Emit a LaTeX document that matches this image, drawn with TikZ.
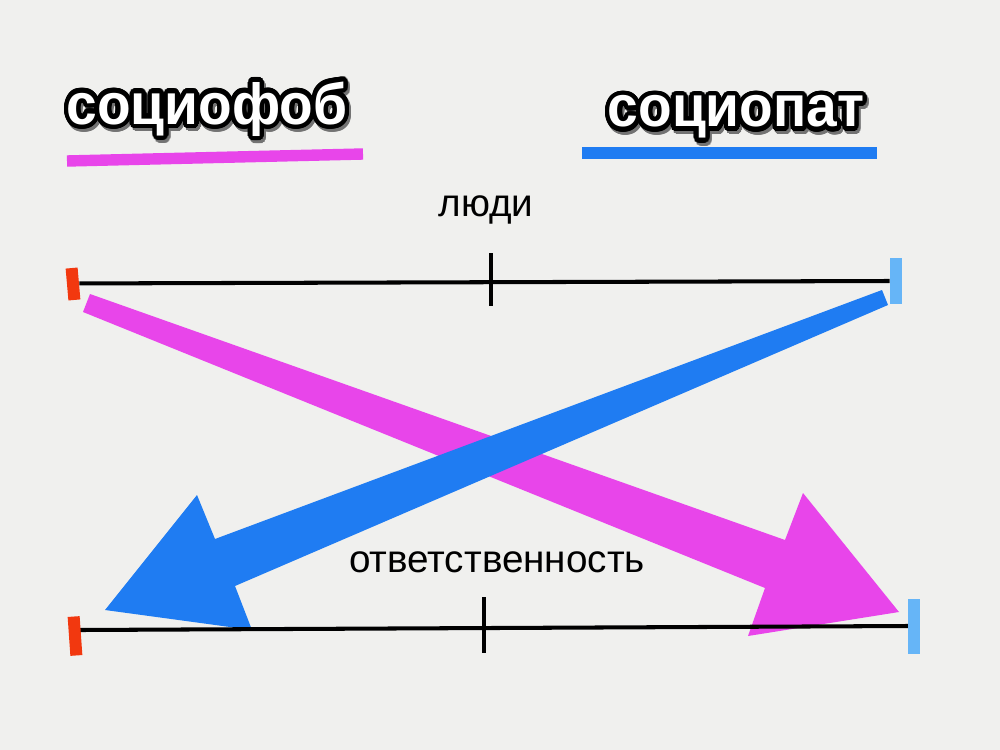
\documentclass[tikz,border=0pt]{standalone}
\usepackage{fontspec}
\setmainfont{Liberation Sans}
\usepackage[copies]{contour}
\contourlength{2.6pt}
\contournumber{32}
\usepackage{tikz}
\usetikzlibrary{positioning}
\definecolor{paper}{HTML}{F0F0EE}
\definecolor{phobcol}{HTML}{E845EA}
\definecolor{pathcol}{HTML}{1F7CF2}
\definecolor{endred}{HTML}{F2380F}
\definecolor{endblue}{HTML}{66B5F7}
\tikzset{titletext/.style={font=\bfseries\fontsize{33}{40}\selectfont, text=white, inner sep=0pt, anchor=base, xscale=0.95, transform shape}}
\tikzset{titleshadow/.style={titletext, text=black!55}}
\tikzset{axislabel/.style={font=\fontsize{22}{26}\selectfont, inner sep=0pt, anchor=base}}
\tikzset{scaleline/.style={black, line width=2.3pt}}
\tikzset{endmark/.style={rectangle, inner sep=0pt, minimum width=0.24cm}}

\begin{document}
\begin{tikzpicture}[x=0.02cm, y=-0.02cm]
    \fill[paper] (0,0) rectangle (1000,750);
    \useasboundingbox (0,0) rectangle (1000,750);

    % titles
    \node [titleshadow](P0) at (209,127) {\contour{black!55}{социофоб}};
    \node [titletext](P1) at (207,124) {\contour{black}{социофоб}};
    \node [titleshadow](S0) at (738,130) {\contour{black!55}{социопат}};
    \node [titletext](S1) at (736,127) {\contour{black}{социопат}};
    \draw[phobcol, line width=6.5pt] (67,161) -- (363,154);
    \draw[pathcol, line width=6.8pt] (582,153) -- (877,153);

    % big arrows
    \coordinate (M1) at (90,294);
    \coordinate (M2) at (785,540);
    \coordinate (M3) at (803,493);
    \coordinate (M4) at (899,612);
    \coordinate (M5) at (748,636);
    \coordinate (M6) at (765,588);
    \coordinate (M7) at (83,312);
    \fill[phobcol] (M1) -- (M2) -- (M3) -- (M4) -- (M5) -- (M6) -- (M7) -- cycle;
    \coordinate (A1) at (882,290);
    \coordinate (A2) at (888,305);
    \coordinate (A3) at (235,586);
    \coordinate (A4) at (252,630);
    \coordinate (A5) at (105,610);
    \coordinate (A6) at (197,495);
    \coordinate (A7) at (215,539);
    \fill[pathcol] (A1) -- (A2) -- (A3) -- (A4) -- (A5) -- (A6) -- (A7) -- cycle;

    % scales
    \node [axislabel](H) at (486,216) {люди};
    \coordinate (T1) at (491,253);
    \coordinate (T2) at (491,306);
    \node [endmark, fill=endred, minimum height=0.64cm, rotate=5](L1) at (73,284) {};
    \node [endmark, fill=endblue, minimum height=0.94cm](R1) at (896,281) {};
    \draw[scaleline] (L1.east) -- (R1.west);
    \draw[scaleline] (T1) -- (T2);

    \node [axislabel](K) at (497,572) {ответственность};
    \coordinate (B1) at (80,630);
    \coordinate (B2) at (908,626);
    \coordinate (T3) at (484,597);
    \coordinate (T4) at (484,653);
    \draw[scaleline] (B1) -- (B2);
    \draw[scaleline] (T3) -- (T4);
    \node [endmark, fill=endred, minimum height=0.78cm, rotate=4](L2) at (75,636) {};
    \node [endmark, fill=endblue, minimum height=1.1cm](R2) at (914,626) {};
\end{tikzpicture}
\end{document}
